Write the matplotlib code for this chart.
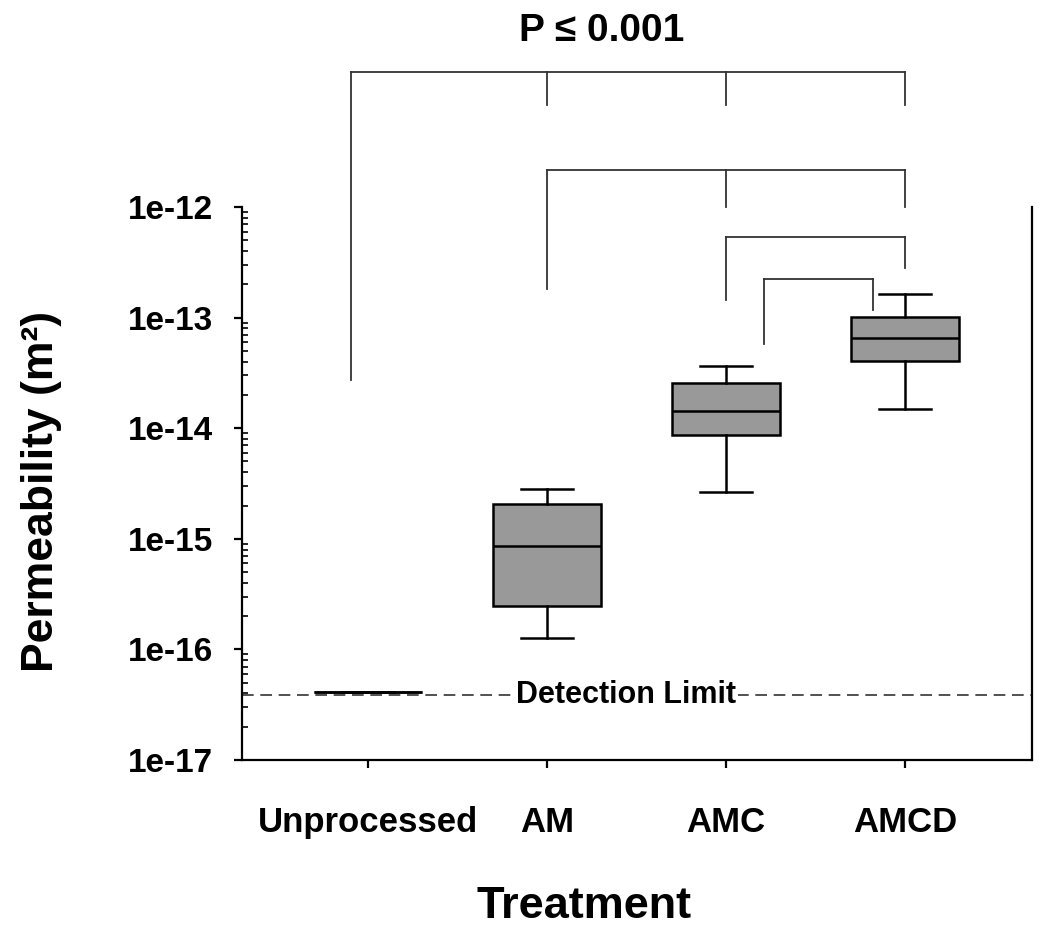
import numpy as np
import matplotlib
matplotlib.use("Agg")
from matplotlib import pyplot as plt
from matplotlib.ticker import FixedLocator, FuncFormatter, LogLocator

plt.rcParams['font.family'] = ['Liberation Sans', 'DejaVu Sans']
plt.rcParams['font.weight'] = 'bold'

# box statistics (m^2)
treatments = ['Unprocessed', 'AM', 'AMC', 'AMCD']
whis_lo = [4.1e-17, 1.27e-16, 2.65e-15, 1.49e-14]
q1 = [4.1e-17, 2.47e-16, 8.7e-15, 4.05e-14]
median = [4.1e-17, 8.6e-16, 1.43e-14, 6.5e-14]
q3 = [4.1e-17, 2.05e-15, 2.56e-14, 1.01e-13]
whis_hi = [4.1e-17, 2.8e-15, 3.65e-14, 1.63e-13]
detection_limit = 3.9e-17

# significance brackets: (x_left, x_right, bar height, [(x, drop end), ...])
brackets = [
    (0.905, 4.0, 1.66e-11, [(0.905, 2.7e-14), (2, 8.4e-12), (3, 8.4e-12), (4, 8.4e-12)]),
    (2.0, 4.0, 2.16e-12, [(2, 1.8e-13), (3, 1.0e-12), (4, 1.0e-12)]),
    (3.0, 4.0, 5.4e-13, [(3, 1.45e-13), (4, 2.8e-13)]),
    (3.21, 3.82, 2.24e-13, [(3.21, 5.8e-14), (3.82, 1.17e-13)]),
]

fig = plt.figure(figsize=(10.5, 9.39), dpi=100)
ax = fig.add_axes([242/1050, 1-760/939, 790/1050, 553/939])

stats = []
for i, t in enumerate(treatments):
    stats.append({'label': t, 'whislo': whis_lo[i], 'q1': q1[i], 'med': median[i],
                  'q3': q3[i], 'whishi': whis_hi[i], 'fliers': []})
pos = np.arange(1, len(treatments) + 1)
ax.bxp(stats, positions=pos, widths=0.6, capwidths=0.29, patch_artist=True,
       showfliers=False,
       boxprops=dict(facecolor='#999999', edgecolor='black', linewidth=1.8),
       medianprops=dict(color='black', linewidth=1.8),
       whiskerprops=dict(color='black', linewidth=1.8),
       capprops=dict(color='black', linewidth=1.8))

ax.axhline(detection_limit, color='#333333', lw=1.2, ls=(0, (7, 4)))
ax.text(2.44, detection_limit, 'Detection Limit', fontsize=22, ha='center', va='center',
        bbox=dict(facecolor='white', edgecolor='none', pad=2))

for xl, xr, yb, drops in brackets:
    ax.plot([xl, xr], [yb, yb], color='#333333', lw=1.3, clip_on=False)
    for x, ye in drops:
        ax.plot([x, x], [yb, ye], color='#333333', lw=1.3, clip_on=False)

ax.set_yscale('log')
ax.set_ylim(1e-17, 1e-12)
ax.set_xlim(0.296, 4.71)
ax.yaxis.set_major_locator(FixedLocator([10.0**k for k in range(-17, -11)]))
ax.yaxis.set_major_formatter(FuncFormatter(lambda v, p: '1e%d' % round(np.log10(v))))
ax.yaxis.set_minor_locator(LogLocator(base=10, subs=np.arange(2, 10), numticks=20))
ax.set_xticks(pos)
ax.set_xticklabels(treatments)

ax.spines['top'].set_visible(False)
for s in ['left', 'right', 'bottom']:
    ax.spines[s].set_linewidth(1.6)
ax.tick_params(axis='y', which='major', direction='out', length=6, width=1.6,
               labelsize=24, pad=15)
ax.tick_params(axis='y', which='minor', direction='in', length=4, width=1.2)
ax.tick_params(axis='x', which='major', direction='out', length=6, width=1.6,
               labelsize=25, pad=27)
ax.tick_params(axis='x', which='minor', bottom=False)

fig.text(602/1050, 1-31/939, 'P ≤ 0.001', fontsize=28, ha='center', va='center')
fig.text(584/1050, 1-907/939, 'Treatment', fontsize=32.5, ha='center', va='center')
fig.text(42/1050, 1-491/939, 'Permeability (m²)', fontsize=32, ha='center', va='center',
         rotation=90)

fig.savefig('out.png', dpi=100)
